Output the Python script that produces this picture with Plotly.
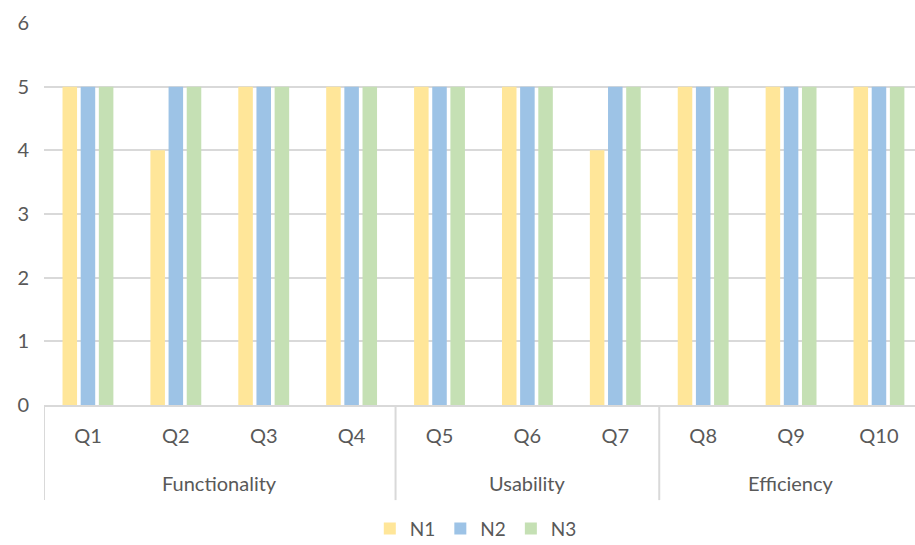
import plotly.graph_objects as go

groups = ["Functionality"] * 4 + ["Usability"] * 3 + ["Efficiency"] * 3
questions = ["Q1", "Q2", "Q3", "Q4", "Q5", "Q6", "Q7", "Q8", "Q9", "Q10"]

n1 = [5, 4, 5, 5, 5, 5, 4, 5, 5, 5]
n2 = [5, 5, 5, 5, 5, 5, 5, 5, 5, 5]
n3 = [5, 5, 5, 5, 5, 5, 5, 5, 5, 5]

series = [("N1", n1, "#FFE699"), ("N2", n2, "#9DC3E6"), ("N3", n3, "#C5E0B4")]

FONT = "Lato, Open Sans, sans-serif"
TXT = "#595959"
GRID = "#D9D9D9"

fig = go.Figure()
for name, vals, color in series:
    fig.add_trace(go.Bar(
        x=questions,
        y=vals,
        name=name,
        marker=dict(color=color, line=dict(width=0)),
    ))

# group spans along the category axis (index based)
spans = []
start = 0
for i in range(1, len(groups) + 1):
    if i == len(groups) or groups[i] != groups[start]:
        spans.append((groups[start], start, i - 1))
        start = i

shapes = []
annotations = []
for name, a, b in spans:
    annotations.append(dict(
        x=(a + b) / 2, xref="x", y=-0.204, yref="paper",
        text=name, showarrow=False, xanchor="center", yanchor="middle",
        font=dict(family=FONT, size=20, color=TXT),
    ))
    shapes.append(dict(
        type="line", xref="x", yref="paper",
        x0=a - 0.5, x1=a - 0.5, y0=0, y1=-0.249,
        line=dict(color=GRID, width=2),
    ))

fig.update_layout(
    width=915,
    height=545,
    margin=dict(l=44, r=0, t=23, b=140, autoexpand=False),
    paper_bgcolor="white",
    plot_bgcolor="white",
    barmode="group",
    bargap=0.38,
    bargroupgap=0.2,
    font=dict(family=FONT, size=20, color=TXT),
    showlegend=True,
    legend=dict(
        orientation="h",
        x=0.52,
        xanchor="center",
        xref="container",
        y=0.03,
        yanchor="middle",
        yref="container",
        font=dict(family=FONT, size=19, color=TXT),
        itemwidth=30,
        tracegroupgap=0,
        traceorder="normal",
    ),
    shapes=shapes,
    annotations=annotations,
    xaxis=dict(
        type="category",
        range=[-0.5, 9.41],
        automargin=False,
        showline=True,
        linecolor=GRID,
        linewidth=2,
        showgrid=False,
        ticks="",
        ticklabelstandoff=12,
        tickfont=dict(family=FONT, size=20, color=TXT),
    ),
    yaxis=dict(
        range=[0, 6],
        dtick=1,
        automargin=False,
        showgrid=True,
        gridcolor=GRID,
        gridwidth=2,
        zeroline=False,
        showline=False,
        ticks="",
        ticklabelstandoff=14,
        tickfont=dict(family=FONT, size=20, color=TXT),
    ),
)

fig.write_html("out.html")
